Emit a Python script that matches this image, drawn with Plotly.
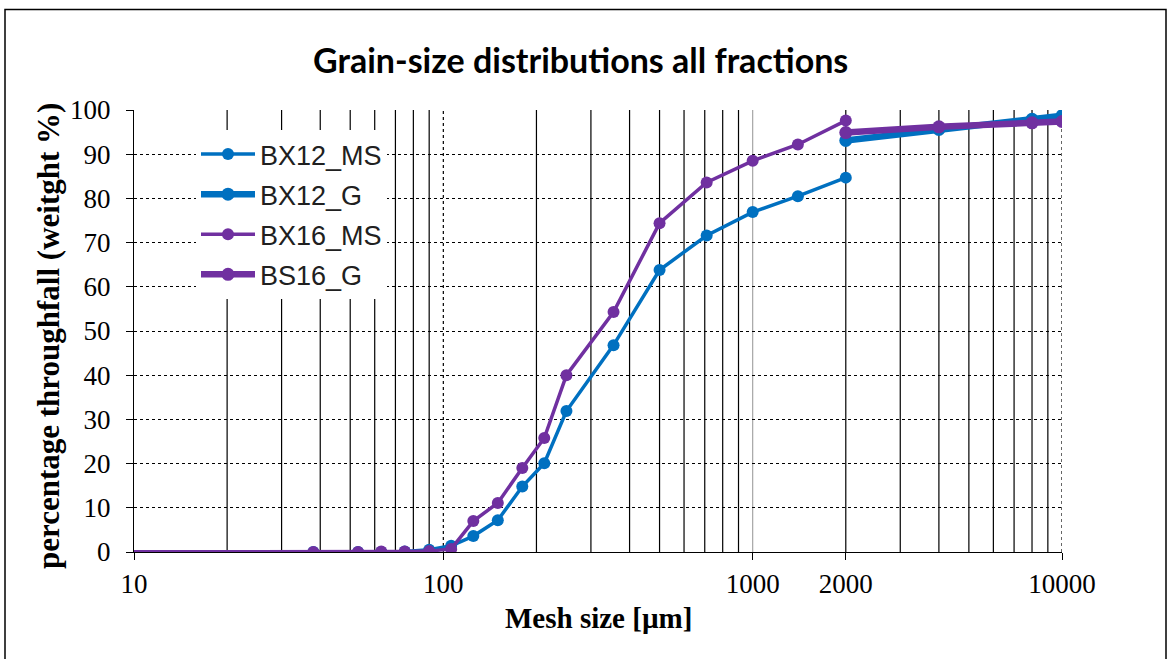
import plotly.graph_objects as go

# Sieve mesh sizes [µm] and cumulative throughfall [weight %]
sizes_ms = [1, 38, 53, 63, 75, 90, 106, 125, 150, 180, 212, 250, 355, 500, 710, 1000, 1400, 2000]
bx12_ms = [0, 0, 0, 0, 0.1, 0.5, 1.4, 3.6, 7.2, 14.8, 20.1, 31.9, 46.8, 63.8, 71.6, 76.9, 80.5, 84.7]
bx16_ms = [0, 0, 0, 0.1, 0.1, 0.2, 0.7, 7.0, 11.1, 19.0, 25.8, 40.0, 54.3, 74.4, 83.6, 88.5, 92.2, 97.6]

sizes_g = [2000, 4000, 8000, 10000]
bx12_g = [93.1, 95.6, 97.9, 98.7]
bs16_g = [94.9, 96.2, 97.1, 97.4]

x_tickvals = [10, 100, 1000, 2000, 10000]
x_ticktext = ["10", "100", "1000", "2000", "10000"]
y_tickvals = list(range(0, 101, 10))

BLUE = "#0070C0"
PURPLE = "#7030A0"

W, H = 1168, 659
L, R, T, B = 134, 106, 110, 107
PW, PH = W - L - R, H - T - B


def px_x(p):
    return (p - L) / PW


def px_y(p):
    return (H - B - p) / PH


fig = go.Figure()

series = [
    ("BX12_MS", sizes_ms, bx12_ms, BLUE, 3.5, 12),
    ("BX12_G", sizes_g, bx12_g, BLUE, 6.5, 13),
    ("BX16_MS", sizes_ms, bx16_ms, PURPLE, 3.5, 12),
    ("BS16_G", sizes_g, bs16_g, PURPLE, 6.5, 13),
]
for name, xs, ys, col, lw, ms in series:
    fig.add_trace(go.Scatter(
        x=xs, y=ys, name=name, mode="lines+markers",
        line=dict(color=col, width=lw),
        marker=dict(color=col, size=ms),
        legendgroup=name,
    ))

# Vertical log grid: solid minor lines, special style for the decades
shapes = []
for dec in [10, 100, 1000]:
    for k in range(2, 10):
        shapes.append(dict(type="line", xref="x", yref="y", x0=k * dec, x1=k * dec,
                           y0=0, y1=100, line=dict(color="black", width=1.2), layer="below"))
for xv, col, dash in [(100, "black", "dot"), (1000, "#a6a6a6", "solid"), (10000, "black", "dot")]:
    shapes.append(dict(type="line", xref="x", yref="y", x0=xv, x1=xv, y0=0, y1=100,
                       line=dict(color=col, width=1.2, dash=dash), layer="below"))

# Outer frame around the chart
shapes.append(dict(type="rect", xref="paper", yref="paper",
                   x0=px_x(5), x1=px_x(1166), y0=px_y(H + 5), y1=px_y(9.5),
                   line=dict(color="black", width=1.5), fillcolor="rgba(0,0,0,0)", layer="above"))

serif = "Liberation Serif, Times New Roman, serif"

fig.update_layout(
    width=W, height=H,
    margin=dict(l=L, r=R, t=T, b=B),
    paper_bgcolor="white", plot_bgcolor="white",
    shapes=shapes,
    showlegend=True,
    legend=dict(
        x=px_x(196), y=px_y(130), xanchor="left", yanchor="top",
        bgcolor="white", borderwidth=0,
        font=dict(family="Liberation Sans, Arial, sans-serif", size=27, color="#202020"),
        itemwidth=54, tracegroupgap=2,
    ),
    xaxis=dict(
        type="log", range=[1, 4],
        tickmode="array", tickvals=x_tickvals, ticktext=x_ticktext,
        showgrid=False, zeroline=False,
        showline=True, linecolor="black", linewidth=1,
        ticks="outside", ticklen=7, tickcolor="black",
        ticklabelstandoff=1,
        tickfont=dict(family=serif, size=27, color="black"),
    ),
    yaxis=dict(
        range=[0, 100],
        tickmode="array", tickvals=y_tickvals,
        showgrid=True, gridcolor="black", gridwidth=1, griddash="dot",
        zeroline=False,
        showline=True, linecolor="black", linewidth=1,
        ticks="outside", ticklen=7, tickcolor="black",
        ticklabelstandoff=10,
        tickfont=dict(family=serif, size=27, color="black"),
    ),
    annotations=[
        dict(text="<b>Grain-size distributions all fractions</b>", xref="paper", yref="paper",
             x=px_x(580), y=px_y(60), xanchor="center", yanchor="middle", showarrow=False,
             font=dict(family="Lato, Open Sans, sans-serif", size=34, color="black")),
        dict(text="<b>Mesh size [µm]</b>", xref="paper", yref="paper",
             x=px_x(598), y=px_y(618), xanchor="center", yanchor="middle", showarrow=False,
             font=dict(family=serif, size=29, color="black")),
        dict(text="<b>percentage throughfall (weitght %)</b>", xref="paper", yref="paper",
             x=px_x(48), y=px_y(336), xanchor="center", yanchor="middle", showarrow=False,
             textangle=-90,
             font=dict(family=serif, size=31, color="black")),
    ],
)

fig.write_html("out.html")
